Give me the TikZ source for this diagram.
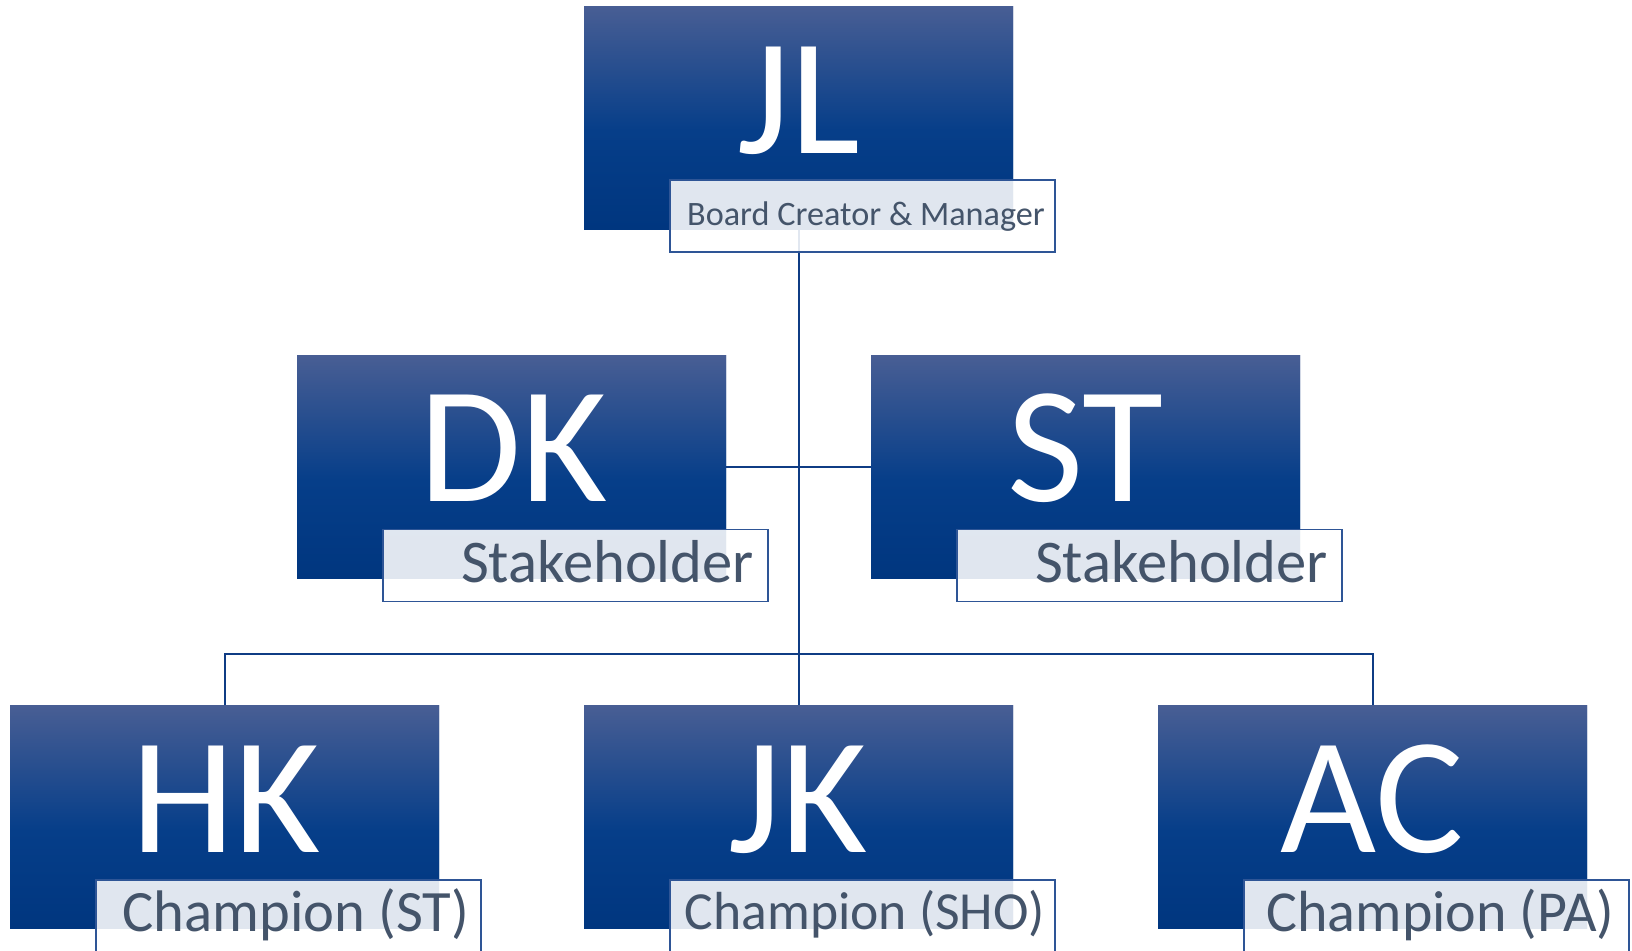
\documentclass[tikz,border=0pt]{standalone}
\usepackage{fontspec}
\setmainfont{Carlito}
\definecolor{gtop}{HTML}{485E94}
\definecolor{gmid}{HTML}{063E89}
\definecolor{gbot}{HTML}{00367F}
\definecolor{lblborder}{HTML}{2E5596}
\definecolor{lbltext}{HTML}{44546A}
\definecolor{conn}{HTML}{0F3C84}
\pgfdeclareverticalshading{persongrad}{100bp}{color(0bp)=(gbot); color(25bp)=(gbot); color(47bp)=(gmid); color(75bp)=(gtop); color(100bp)=(gtop)}
\tikzset{
  person/.style={rectangle, inner sep=0pt, minimum width=214.5pt, minimum height=111.5pt,
    shading=persongrad, draw=none},
  initials/.style={anchor=base, text=white, font=\fontsize{83}{90}\selectfont, inner sep=0pt},
  rolebox/.style={rectangle, inner sep=0pt, minimum width=192.5pt, minimum height=36pt,
    fill=white, fill opacity=0.88, draw=lblborder, line width=0.7pt, draw opacity=1},
  roletext/.style={anchor=base, text=lbltext, inner sep=0pt},
  link/.style={draw=conn, line width=1pt},
}
\begin{document}
\begin{tikzpicture}[x=0.5pt, y=-0.5pt]
\useasboundingbox (0,0) rectangle (1632,950);
% boxes (positions only, drawn after the connectors)
\node[person] (jl) at (798.5,117.5) {};
\node[person] (dk) at (511.5,467) {};
\node[person] (st) at (1085.5,467) {};
\node[person] (hk) at (224.5,817) {};
\node[person] (jk) at (798.5,817) {};
\node[person] (ac) at (1372.5,817) {};
% connectors
\coordinate (bus) at (798.5,654);
\draw[link] (jl.south) -- (jk.north);
\draw[link] (dk.east) -- (st.west);
\draw[link] (hk.north) |- (bus) -| (ac.north);
% re-draw boxes above connectors
\node[person] at (jl) {};
\node[person] at (dk) {};
\node[person] at (st) {};
\node[person] at (hk) {};
\node[person] at (jk) {};
\node[person] at (ac) {};
% initials
\node[initials] (jlt) at (798.5,153) {JL};
\node[initials] (dkt) at (514,501) {DK};
\node[initials] (stt) at (1085.5,501) {ST};
\node[initials] (hkt) at (226,852) {HK};
\node[initials] (jkt) at (798.5,852) {JK};
\node[initials] (act) at (1372.5,852) {AC};
% role boxes
\node[rolebox] (jlr) at (862.5,216) {};
\node[rolebox] (dkr) at (575.5,565.5) {};
\node[rolebox] (str) at (1149.5,565.5) {};
\node[rolebox] (hkr) at (288.5,916) {};
\node[rolebox] (jkr) at (862.5,916) {};
\node[rolebox] (acr) at (1436.5,916) {};
% role texts
\node[roletext, font=\fontsize{17.1}{20}\selectfont] (jlrt) at (866,225) {Board Creator \& Manager};
\node[roletext, font=\fontsize{30.3}{34}\selectfont] (dkrt) at (607.5,582) {Stakeholder};
\node[roletext, font=\fontsize{30.3}{34}\selectfont] (strt) at (1181.5,582) {Stakeholder};
\node[roletext, font=\fontsize{29.3}{34}\selectfont] (hkrt) at (296,931) {Champion (ST)};
\node[roletext, font=\fontsize{26.8}{32}\selectfont] (jkrt) at (865,929) {Champion (SHO)};
\node[roletext, font=\fontsize{29}{34}\selectfont] (acrt) at (1440.5,931) {Champion (PA)};
\end{tikzpicture}
\end{document}
